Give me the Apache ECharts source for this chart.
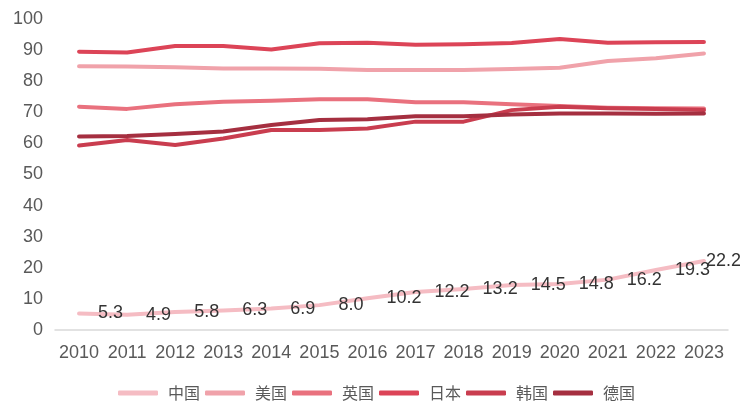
<!DOCTYPE html>
<html><head><meta charset="utf-8">
<script src="https://cdn.jsdelivr.net/npm/echarts@6/dist/echarts.min.js"></script>
<style>html,body{margin:0;padding:0;background:#fff}#c{width:740px;height:401px}</style>
</head><body><div id="c"></div>
<script>
var years = ['2010','2011','2012','2013','2014','2015','2016','2017','2018','2019','2020','2021','2022','2023'];
var seriesNames = ['中国','美国','英国','日本','韩国','德国'];
var china   = [5.3, 4.9, 5.8, 6.3, 6.9, 8.0, 10.2, 12.2, 13.2, 14.5, 14.8, 16.2, 19.3, 22.2];
var usa     = [84.8, 84.7, 84.5, 84.1, 84.1, 84.0, 83.6, 83.6, 83.6, 83.9, 84.3, 86.5, 87.4, 88.9];
var uk      = [71.8, 71.1, 72.6, 73.4, 73.7, 74.2, 74.2, 73.2, 73.2, 72.6, 72.0, 71.5, 71.3, 71.2];
var japan   = [89.5, 89.2, 91.3, 91.3, 90.2, 92.2, 92.4, 91.7, 91.9, 92.3, 93.6, 92.4, 92.5, 92.6];
var korea   = [59.3, 61.1, 59.5, 61.6, 64.3, 64.3, 64.8, 67.0, 67.0, 70.7, 71.8, 71.3, 71.1, 70.7];
var germany = [62.2, 62.4, 63.0, 63.8, 65.9, 67.5, 67.8, 68.7, 68.7, 69.3, 69.6, 69.6, 69.5, 69.6];
var yTicks = [0, 10, 20, 30, 40, 50, 60, 70, 80, 90, 100];

var colors = ['#f5bcc3', '#f0a2aa', '#e9717e', '#dc4457', '#c93d4f', '#a52f40'];
var allData = [china, usa, uk, japan, korea, germany];

var chart = echarts.init(document.getElementById('c'));
var series = allData.map(function (d, i) {
  var s = {
    name: seriesNames[i],
    type: 'line',
    data: d,
    symbol: 'circle',
    symbolSize: 0,
    showSymbol: i === 0,
    lineStyle: { width: 4, color: colors[i], cap: 'round', join: 'round' },
    itemStyle: { color: colors[i] },
    emphasis: { disabled: true },
    z: 2 + i
  };
  if (i === 0) {
    s.data = d.map(function (v, k) {
      return k === d.length - 1 ? { value: v, label: { distance: 2 } } : v;
    });
    s.label = {
      show: true, position: 'right', distance: 19,
      color: '#333', fontSize: 18, fontFamily: 'Liberation Sans, Arial, sans-serif',
      formatter: function (p) { return p.value.toFixed(1); }
    };
    s.labelLayout = { hideOverlap: false };
    s.z = 10;
  }
  return s;
});

chart.setOption({
  animation: false,
  grid: { left: 55, right: 12, top: 19, bottom: 71 },
  legend: {
    data: seriesNames,
    left: 113, top: 380,
    itemWidth: 40, itemHeight: 5, itemGap: 5,
    icon: 'roundRect',
    textStyle: { color: '#595959', fontSize: 16, padding: [0, 0, 0, 5], fontFamily: 'Noto Sans CJK SC, sans-serif' }
  },
  xAxis: {
    type: 'category', data: years, boundaryGap: true,
    axisLine: { show: true, lineStyle: { color: '#d9d9d9', width: 1.5 } },
    axisTick: { show: false },
    axisLabel: { color: '#595959', fontSize: 18, margin: 14, fontFamily: 'Liberation Sans, Arial, sans-serif', interval: 0 }
  },
  yAxis: {
    type: 'value', min: yTicks[0], max: yTicks[yTicks.length - 1], interval: 10,
    axisLine: { show: false }, axisTick: { show: false },
    splitLine: { show: false },
    axisLabel: { color: '#595959', fontSize: 18, margin: 12, fontFamily: 'Liberation Sans, Arial, sans-serif' }
  },
  series: series
});
</script>
</body></html>
